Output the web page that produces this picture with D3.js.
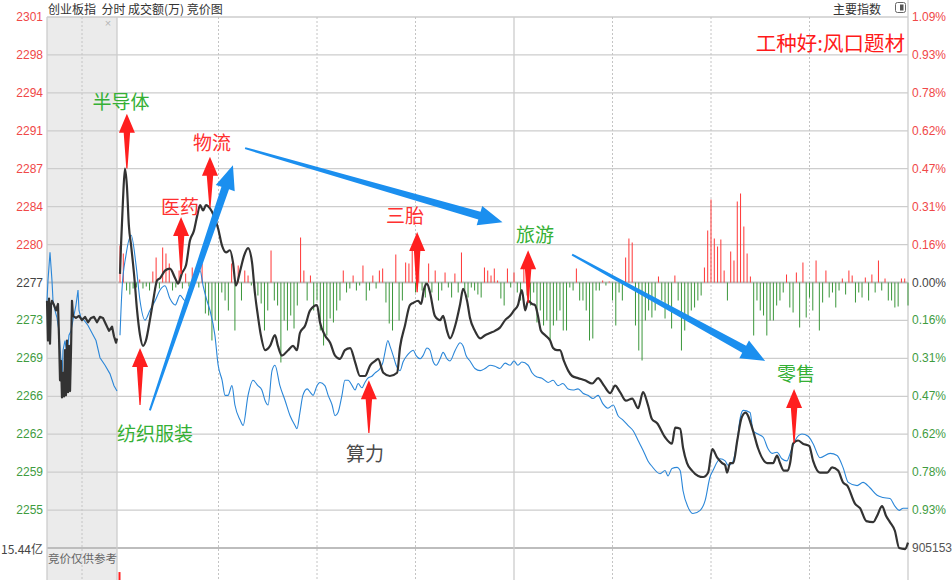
<!DOCTYPE html>
<html><head><meta charset="utf-8">
<script src="https://cdn.jsdelivr.net/npm/d3@7"></script>
<style>
body{margin:0;background:#fff;}
svg{display:block;}
</style>
</head><body>
<svg id="c" width="952" height="580"></svg>
<script>
// ---------------- DATA ----------------
const prevClose = 2276.9;
const stepPct = 0.155;
const priceTickLabels = ["2301","2298","2294","2291","2287","2284","2280","2277","2273","2269","2266","2262","2259","2255"];
const pctTickLabels = ["1.09%","0.93%","0.78%","0.62%","0.47%","0.31%","0.16%","0.00%","0.16%","0.31%","0.47%","0.62%","0.78%","0.93%"];
const volumeMaxLabel = "15.44亿";
const volumeRightLabel = "905153";
const timeGridMinutes = [30,60,90,120,150,180,210];
const auctionGridMinutes = [5];

// 创业板指 minute line: [minutes since 9:30, price]
const indexLine = [[0,2277.7],[0.3,2280.3],[0.9,2284.5],[1.5,2287.5],[2.1,2285.9],[2.7,2282.2],[3.4,2280.3],[4.3,2277.6],[5.2,2274.3],[6.1,2272.0],[7.0,2271.0],[7.9,2271.5],[9.1,2273.4],[10.1,2275.2],[11.3,2277.1],[12.2,2277.3],[13.7,2278.0],[15.2,2278.2],[16.8,2277.3],[17.7,2276.8],[18.9,2277.8],[20.1,2278.5],[21.3,2280.8],[22.5,2281.7],[23.5,2283.1],[24.4,2284.1],[25.3,2283.6],[26.2,2284.1],[27.4,2283.8],[28.6,2283.1],[29.9,2281.9],[31.1,2280.3],[32.3,2279.7],[33.5,2279.9],[34.4,2278.8],[35.3,2276.6],[36.6,2278.0],[37.8,2279.4],[39.0,2280.1],[40.2,2278.8],[41.1,2275.9],[42.0,2273.8],[42.9,2272.0],[44.2,2270.6],[45.7,2271.0],[47.2,2272.0],[48.1,2271.0],[49.3,2270.1],[51.2,2270.6],[52.7,2271.0],[53.9,2270.6],[54.8,2272.2],[56.4,2272.9],[57.9,2274.3],[60.0,2274.8],[60.9,2273.2],[62.4,2272.0],[64.0,2271.3],[65.5,2270.1],[67.0,2269.8],[68.5,2270.6],[70.1,2270.8],[71.6,2269.5],[73.1,2268.2],[74.6,2268.2],[76.2,2269.2],[77.7,2269.6],[78.6,2269.8],[80.2,2268.5],[82.2,2268.2],[84.4,2268.5],[85.3,2270.9],[86.8,2272.9],[88.3,2274.8],[89.3,2275.0],[90.8,2275.2],[91.7,2274.9],[92.6,2276.3],[93.5,2276.8],[94.4,2276.0],[95.9,2273.8],[97.5,2273.4],[98.4,2273.8],[99.6,2272.4],[100.5,2271.7],[102.1,2272.9],[103.6,2274.9],[104.5,2276.3],[105.7,2275.2],[106.6,2273.6],[108.1,2272.4],[109.7,2271.7],[111.2,2272.0],[112.7,2272.2],[114.2,2272.4],[115.7,2272.7],[117.3,2273.4],[118.8,2273.8],[120.0,2274.3],[121.2,2274.8],[122.4,2276.2],[123.4,2274.3],[124.3,2275.2],[125.5,2274.9],[126.4,2274.8],[127.3,2273.8],[128.2,2272.4],[129.5,2272.0],[131.0,2271.5],[131.9,2270.8],[133.1,2270.6],[134.0,2270.6],[135.2,2269.6],[136.5,2268.7],[137.7,2268.2],[139.5,2268.0],[141.6,2267.8],[143.8,2267.5],[145.6,2268.0],[147.4,2267.3],[149.3,2266.6],[150.8,2267.3],[152.3,2266.7],[154.1,2265.9],[156.0,2266.1],[157.8,2265.2],[159.3,2266.7],[160.8,2265.5],[162.0,2264.2],[163.6,2263.8],[166.0,2262.5],[168.1,2261.9],[169.1,2263.4],[170.6,2263.3],[171.5,2261.5],[172.7,2260.1],[174.2,2259.4],[176.1,2258.9],[177.6,2258.8],[179.1,2259.2],[180.4,2261.4],[181.9,2260.6],[183.4,2260.1],[184.3,2259.9],[184.9,2259.2],[185.8,2260.1],[186.8,2260.1],[188.0,2262.2],[189.3,2264.3],[190.5,2264.8],[192.8,2263.1],[194.3,2261.5],[197.1,2260.1],[198.9,2260.1],[200.1,2260.8],[201.0,2260.1],[202.2,2259.4],[203.4,2259.4],[204.1,2260.1],[205.0,2261.9],[206.5,2262.2],[208.0,2261.9],[209.9,2261.7],[211.1,2260.3],[213.2,2259.2],[215.4,2259.2],[216.9,2259.7],[218.7,2259.4],[220.2,2258.3],[221.5,2258.0],[223.9,2256.3],[225.4,2255.9],[227.3,2254.7],[229.4,2254.6],[230.6,2255.2],[232.1,2256.1],[233.3,2255.2],[234.5,2254.6],[236.0,2253.8],[237.3,2252.2],[239.1,2252.1],[240.0,2252.7]];

// reference (blue) line: [minutes since 9:30, price-equivalent]
const refLine = [[0,2272.0],[0.6,2276.2],[1.8,2279.4],[3.4,2281.3],[4.9,2278.5],[6.1,2275.2],[7.6,2273.4],[9.1,2274.3],[10.7,2275.2],[12.2,2276.2],[13.7,2276.6],[15.2,2275.4],[16.8,2274.8],[18.3,2275.7],[19.8,2275.2],[21.3,2276.2],[22.8,2277.1],[24.4,2278.0],[25.3,2276.6],[26.5,2275.2],[27.4,2274.3],[28.9,2272.0],[29.9,2269.2],[31.1,2267.8],[32.0,2266.4],[32.9,2266.4],[34.1,2267.3],[35.0,2265.5],[36.6,2264.1],[37.5,2263.6],[39.0,2266.4],[40.5,2267.8],[42.0,2267.3],[43.2,2266.9],[44.2,2265.9],[45.1,2265.5],[46.3,2268.7],[47.2,2269.2],[48.7,2267.3],[50.3,2265.9],[51.8,2264.5],[53.3,2263.6],[53.9,2263.3],[54.8,2264.8],[55.7,2266.4],[57.0,2267.0],[57.9,2266.7],[58.8,2266.4],[60.0,2267.3],[60.9,2267.6],[62.4,2267.3],[63.4,2266.4],[64.6,2265.5],[65.5,2264.5],[66.4,2264.8],[67.6,2266.4],[68.5,2267.8],[69.5,2267.8],[70.7,2267.3],[71.6,2266.9],[72.5,2267.5],[73.7,2267.1],[74.6,2267.6],[75.5,2268.0],[76.8,2268.2],[77.7,2268.5],[79.2,2268.9],[80.1,2269.5],[80.7,2270.4],[81.6,2271.5],[82.2,2271.0],[83.2,2270.1],[84.1,2269.2],[85.3,2268.7],[86.2,2269.5],[87.4,2270.1],[88.3,2270.4],[89.3,2270.6],[90.2,2270.1],[91.4,2269.8],[92.3,2270.1],[93.5,2270.8],[94.4,2270.6],[95.3,2269.6],[96.3,2269.2],[97.5,2269.8],[98.4,2270.4],[99.6,2269.8],[100.5,2269.6],[102.1,2270.6],[103.6,2271.3],[104.5,2271.0],[105.4,2270.1],[106.6,2269.6],[108.1,2268.9],[109.7,2268.7],[111.2,2268.9],[112.7,2269.2],[114.2,2269.1],[115.7,2268.9],[117.3,2269.4],[118.8,2269.2],[120.0,2269.6],[121.2,2269.2],[122.4,2269.5],[124.3,2269.2],[125.5,2268.5],[127.0,2268.1],[128.5,2268.0],[130.4,2267.6],[131.9,2267.8],[133.4,2267.3],[134.9,2267.5],[136.5,2267.0],[138.0,2266.9],[139.5,2267.0],[141.0,2266.6],[142.5,2266.4],[144.1,2266.1],[145.6,2266.4],[147.1,2265.6],[148.6,2265.2],[150.2,2265.5],[151.7,2264.5],[153.2,2264.1],[154.7,2263.6],[156.3,2263.1],[157.8,2262.2],[159.3,2261.3],[160.8,2260.3],[162.0,2259.8],[164.5,2259.1],[166.0,2259.4],[166.9,2258.9],[168.1,2259.6],[169.7,2259.7],[170.6,2259.4],[171.5,2257.5],[173.0,2256.0],[174.5,2255.4],[176.7,2255.7],[178.2,2256.6],[179.7,2258.8],[180.6,2259.4],[182.8,2260.5],[184.3,2260.3],[185.2,2259.9],[186.4,2260.1],[188.0,2262.2],[188.9,2264.3],[189.8,2265.0],[191.9,2264.8],[192.8,2263.1],[194.3,2262.8],[195.9,2262.5],[197.4,2261.4],[198.6,2261.0],[200.1,2261.1],[201.6,2260.5],[203.1,2260.3],[204.1,2261.0],[205.6,2262.2],[207.7,2262.8],[209.6,2262.6],[211.1,2261.9],[213.2,2260.6],[216.3,2261.0],[218.4,2260.8],[220.2,2259.7],[221.8,2258.3],[224.5,2258.0],[226.3,2258.3],[228.4,2257.8],[230.6,2257.1],[232.4,2256.9],[234.5,2256.8],[236.0,2256.1],[237.3,2255.7],[238.5,2255.9],[240.0,2255.9]];

// auction period (9:15-9:25): [minutes since 9:15, price]
const auctionIndex = [[0,2275.2],[0.14,2271.5],[0.29,2275.4],[0.43,2271.2],[0.57,2274.8],[0.71,2275.2],[1.0,2274.8],[1.29,2274.3],[1.57,2274.9],[1.71,2272.0],[1.86,2267.8],[2.0,2269.6],[2.14,2266.2],[2.29,2268.5],[2.43,2266.3],[2.57,2270.6],[2.71,2266.4],[2.86,2271.5],[3.0,2266.7],[3.14,2271.0],[3.29,2266.8],[3.43,2270.6],[3.57,2275.2],[3.71,2273.8],[4.14,2273.6],[4.57,2273.8],[5.0,2273.4],[5.43,2273.7],[5.86,2273.2],[6.29,2273.6],[6.71,2273.7],[7.14,2273.2],[7.57,2273.7],[8.0,2273.6],[8.43,2273.0],[8.86,2272.4],[9.29,2272.8],[9.57,2271.9],[9.86,2271.3],[10,2271.7]];
const auctionRef = [[0,2275.2],[0.14,2277.1],[0.43,2279.7],[0.71,2277.1],[0.86,2275.2],[1.14,2274.3],[1.43,2273.6],[1.71,2272.4],[2.0,2269.6],[2.14,2267.8],[2.29,2270.6],[2.57,2271.5],[2.86,2270.1],[3.14,2272.0],[3.43,2272.4],[3.71,2273.4],[4.14,2274.8],[4.43,2276.2],[4.57,2274.3],[4.86,2273.6],[5.29,2273.4],[5.86,2272.9],[6.43,2272.2],[7.0,2271.5],[7.57,2269.9],[8.29,2269.2],[9.0,2268.4],[9.57,2267.3],[10,2266.8]];

// per-minute buy/sell strength bars (red up, green down), minute 0..240
const flowBars = [37,29,-8,-12,-6,-5,3,-6,-4,-8,11,25,-6,35,29,19,-8,-5,12,-6,9,-4,15,12,-5,19,-31,-33,-58,-38,-48,-10,-18,-28,19,-48,17,-18,12,7,-3,-8,-13,-21,-48,-28,32,-18,-23,-80,-38,-48,-33,-46,-23,45,12,-18,7,-28,-18,-48,-63,-53,-36,-40,-28,-18,12,-10,-6,7,-8,-3,17,-18,-8,7,-6,12,14,-20,-41,-48,28,-38,-18,20,19,32,-10,35,-8,-15,19,-10,12,-18,-8,10,-5,-15,9,-10,30,-8,-15,-5,-8,-12,-15,15,12,7,14,2,-16,-23,14,-5,10,-10,-18,17,-13,-23,-10,-40,-28,-43,-38,-58,-43,-38,-28,-48,-48,-5,-8,14,-18,-18,-28,-58,-56,-8,-8,2,-3,1,-18,-43,-10,-18,25,44,40,-43,-68,-78,-38,-28,-35,-28,6,-18,-36,-23,-46,7,-18,-68,-48,-38,-28,-25,-18,-13,15,52,83,44,36,43,12,-18,31,22,81,89,56,29,6,-53,-18,-28,-33,-53,-38,-38,-23,-18,-10,8,-25,-30,10,-45,20,-35,-15,-28,22,-48,-20,12,-15,-10,-25,-8,4,-12,12,7,-20,-10,-15,5,-18,8,-10,22,-8,4,-18,-18,-25,-24,4,4,-23];

// turnover (亿) for first minute (only its top is visible)
const volumeFirst = [[0, 11.4]];

// annotations (anchored in chart data: minute, price)
const annotations = [
  {text:"半导体", tm:0.3, tp:2293.8, kind:"g", am:2.1, tip:2292.6, tail:2287.5},
  {text:"物流", tm:28.0, tp:2290.0, kind:"r", am:27.4, tip:2288.6, tail:2283.9},
  {text:"医药", tm:18.3, tp:2284.1, kind:"r", am:18.6, tip:2283.0, tail:2277.7},
  {text:"三胎", tm:86.8, tp:2283.2, kind:"r", am:90.5, tip:2281.6, tail:2276.0},
  {text:"旅游", tm:126.4, tp:2281.5, kind:"g", am:124.3, tip:2279.9, tail:2275.0},
  {text:"零售", tm:205.9, tp:2268.5, kind:"g", am:205.3, tip:2267.0, tail:2262.0},
  {text:"算力", tm:74.6, tp:2261.1, kind:"k", am:75.8, tip:2267.8, tail:2262.9},
  {text:"纺织服装", tm:10.7, tp:2262.9, kind:"g", am:6.1, tip:2270.8, tail:2265.5}
];
const trendArrows = [
  {from:[9.1,2265.0], to:[34.4,2287.8]},
  {from:[38.1,2289.4], to:[116.5,2282.5]},
  {from:[137.7,2279.5], to:[196.5,2269.6]}
];

// ---------------- LAYOUT / STYLE ----------------
const L = 47, AUC_R = 117, MAIN_L = 120, R = 908, T = 17, B = 548;
const RED = "#f04848", GREEN = "#3f9c3f", GRID = "#cdcdcd";
const annColor = {g:"#35b035", r:"#ff3030", k:"#4a4a4a"};
const cjk = '"Noto Sans CJK SC","Noto Sans",sans-serif';
const num = '"Liberation Sans",Arial,sans-serif';

const svg = d3.select("#c");
const yTopP = prevClose * (1 + 7*stepPct/100), yBotP = prevClose * (1 - 7*stepPct/100);
const y = d3.scaleLinear().domain([yBotP, yTopP]).range([B, T]);
const x = d3.scaleLinear().domain([0, 240]).range([MAIN_L, R]);
const xa = d3.scaleLinear().domain([0, 10]).range([L, AUC_R]);
const y0 = y(prevClose);
const barY = d3.scaleLinear().domain([-100, 100]).range([y0 + 100, y0 - 100]);
const volY = d3.scaleLinear().domain([0, 15.44]).range([B + 92, B]);

// auction grey panel
svg.append("rect").attr("x", L).attr("y", T).attr("width", AUC_R - L).attr("height", 580 - T).attr("fill", "#ebebeb");
svg.append("text").attr("x", 108).attr("y", 27).attr("text-anchor","middle").attr("font-size", 11)
  .attr("fill", "#b5b5b5").attr("font-family", num).text("×");

// horizontal grid
const levels = d3.range(7, -8, -1);
svg.append("g").selectAll("line").data(levels).join("line")
  .attr("x1", L).attr("x2", R)
  .attr("y1", k => y(prevClose*(1+k*stepPct/100))).attr("y2", k => y(prevClose*(1+k*stepPct/100)))
  .attr("stroke", k => (k === 0 || k === -7) ? "#bdbdbd" : GRID)
  .attr("stroke-width", k => (k === 0 || k === -7) ? 2.2 : 1.3);

// vertical grid
const vg = svg.append("g");
vg.selectAll("line.d").data(timeGridMinutes.filter(m => m !== 120)).join("line")
  .attr("x1", d => x(d)).attr("x2", d => x(d)).attr("y1", T).attr("y2", 580)
  .attr("stroke", "#c4c4c4").attr("stroke-width", 1).attr("stroke-dasharray", "2,2");
vg.selectAll("line.a").data(auctionGridMinutes).join("line")
  .attr("x1", d => xa(d)).attr("x2", d => xa(d)).attr("y1", T).attr("y2", 580)
  .attr("stroke", "#c4c4c4").attr("stroke-width", 1).attr("stroke-dasharray", "2,2");
[L, AUC_R, x(120), R].forEach((xx, i) => {
  vg.append("line").attr("x1", xx).attr("x2", xx).attr("y1", i === 3 ? 0 : T).attr("y2", 580)
    .attr("stroke", GRID).attr("stroke-width", 1.3);
});

// flow bars
svg.append("g").selectAll("line").data(flowBars).join("line")
  .attr("x1", (d, i) => x(i)).attr("x2", (d, i) => x(i))
  .attr("y1", barY(0)).attr("y2", d => barY(d))
  .attr("stroke", d => d >= 0 ? "#ff3636" : "#3a963a").attr("stroke-width", 1);

// first volume bar (bottom panel)
svg.append("g").selectAll("rect").data(volumeFirst).join("rect")
  .attr("x", d => x(d[0]) - 1.5).attr("width", 2).attr("y", d => volY(d[1])).attr("height", d => 580 - volY(d[1]))
  .attr("fill", "#ff2020");

// lines
const lineMain = d3.line().x(d => x(d[0])).y(d => y(d[1])).curve(d3.curveMonotoneX);
const lineAuc = d3.line().x(d => xa(d[0])).y(d => y(d[1]));
svg.append("path").attr("d", lineAuc(auctionRef)).attr("fill","none").attr("stroke","#2a86d8").attr("stroke-width",1.1);
svg.append("path").attr("d", lineMain(refLine)).attr("fill","none").attr("stroke","#2a86d8").attr("stroke-width",1.1);
svg.append("path").attr("d", lineAuc(auctionIndex)).attr("fill","none").attr("stroke","#333").attr("stroke-width",2.2).attr("stroke-linejoin","round");
svg.append("path").attr("d", lineMain(indexLine)).attr("fill","none").attr("stroke","#333").attr("stroke-width",2.2).attr("stroke-linejoin","round");

// trend arrows (blue)
function blueArrowPath(x1, y1, x2, y2) {
  const dx = x2 - x1, dy = y2 - y1, len = Math.hypot(dx, dy);
  const ux = dx/len, uy = dy/len, nx = -uy, ny = ux;
  const hl = 24, hw = 10, w0 = 1, w1 = 4;
  const bx = x2 - ux*hl, by = y2 - uy*hl;
  const p = [[x1+nx*w0, y1+ny*w0],[bx+nx*w1, by+ny*w1],[bx+nx*hw, by+ny*hw],[x2, y2],
             [bx-nx*hw, by-ny*hw],[bx-nx*w1, by-ny*w1],[x1-nx*w0, y1-ny*w0]];
  return "M" + p.map(q => q.join(",")).join("L") + "Z";
}
svg.append("g").selectAll("path").data(trendArrows).join("path")
  .attr("d", d => blueArrowPath(x(d.from[0]), y(d.from[1]), x(d.to[0]), y(d.to[1])))
  .attr("fill", "#1b8fef");

// red marker arrows
function redArrowPath(X, Yt, Yb) {
  const hh = 19, hw = 8, sw = 3.2;
  return `M${X},${Yt}L${X+hw},${Yt+hh}L${X+sw},${Yt+hh}L${X+0.6},${Yb}L${X-0.6},${Yb}L${X-sw},${Yt+hh}L${X-hw},${Yt+hh}Z`;
}
svg.append("g").selectAll("path").data(annotations).join("path")
  .attr("d", d => redArrowPath(x(d.am), y(d.tip), y(d.tail)))
  .attr("fill", "#ff1f1f");

svg.append("g").selectAll("text").data(annotations).join("text")
  .attr("x", d => x(d.tm)).attr("y", d => y(d.tp))
  .attr("text-anchor", "middle").attr("dominant-baseline", "central")
  .attr("font-family", cjk).attr("font-size", 19)
  .attr("fill", d => annColor[d.kind]).text(d => d.text);

// axis labels
const axL = svg.append("g").attr("font-family", num).attr("font-size", 12);
axL.selectAll("text.l").data(priceTickLabels).join("text")
  .attr("x", 43).attr("y", (d, i) => y(prevClose*(1+(7-i)*stepPct/100)))
  .attr("text-anchor", "end").attr("dominant-baseline", "central")
  .attr("fill", (d, i) => i < 7 ? RED : (i === 7 ? "#444" : GREEN)).text(d => d);
axL.selectAll("text.r").data(pctTickLabels).join("text")
  .attr("x", 912).attr("y", (d, i) => y(prevClose*(1+(7-i)*stepPct/100)))
  .attr("text-anchor", "start").attr("dominant-baseline", "central")
  .attr("fill", (d, i) => i < 7 ? RED : (i === 7 ? "#444" : GREEN)).text(d => d);
svg.append("text").attr("x", 43).attr("y", B).attr("text-anchor","end").attr("dominant-baseline","central")
  .attr("font-family", cjk).attr("font-size", 12).attr("fill", "#444").text(volumeMaxLabel);
svg.append("text").attr("x", 912).attr("y", B).attr("dominant-baseline","central")
  .attr("font-family", num).attr("font-size", 12).attr("fill", "#555").text(volumeRightLabel);
svg.append("text").attr("x", 48).attr("y", 558).attr("dominant-baseline","central")
  .attr("font-family", cjk).attr("font-size", 11.5).attr("fill", "#666").text("竞价仅供参考");

// header
svg.append("text").attr("x", 48).attr("y", 8).attr("dominant-baseline","central")
  .attr("font-family", cjk).attr("font-size", 12).attr("fill", "#333")
  .attr("xml:space","preserve").text("创业板指  分时 成交额(万) 竞价图");
svg.append("text").attr("x", 881).attr("y", 8).attr("text-anchor","end").attr("dominant-baseline","central")
  .attr("font-family", cjk).attr("font-size", 12).attr("fill", "#333").text("主要指数");
svg.append("rect").attr("x", 895.5).attr("y", 2.5).attr("width", 10).attr("height", 10).attr("rx", 2)
  .attr("fill", "#fff").attr("stroke", "#666");
svg.append("rect").attr("x", 900).attr("y", 4.5).attr("width", 3.5).attr("height", 6).attr("fill", "#555");

// title
svg.append("text").attr("x", 905).attr("y", 42).attr("text-anchor","end").attr("dominant-baseline","central")
  .attr("font-family", cjk).attr("font-size", 20.5).attr("fill", "#ff1a1a").text("工种好:风口题材");
</script>
</body></html>
